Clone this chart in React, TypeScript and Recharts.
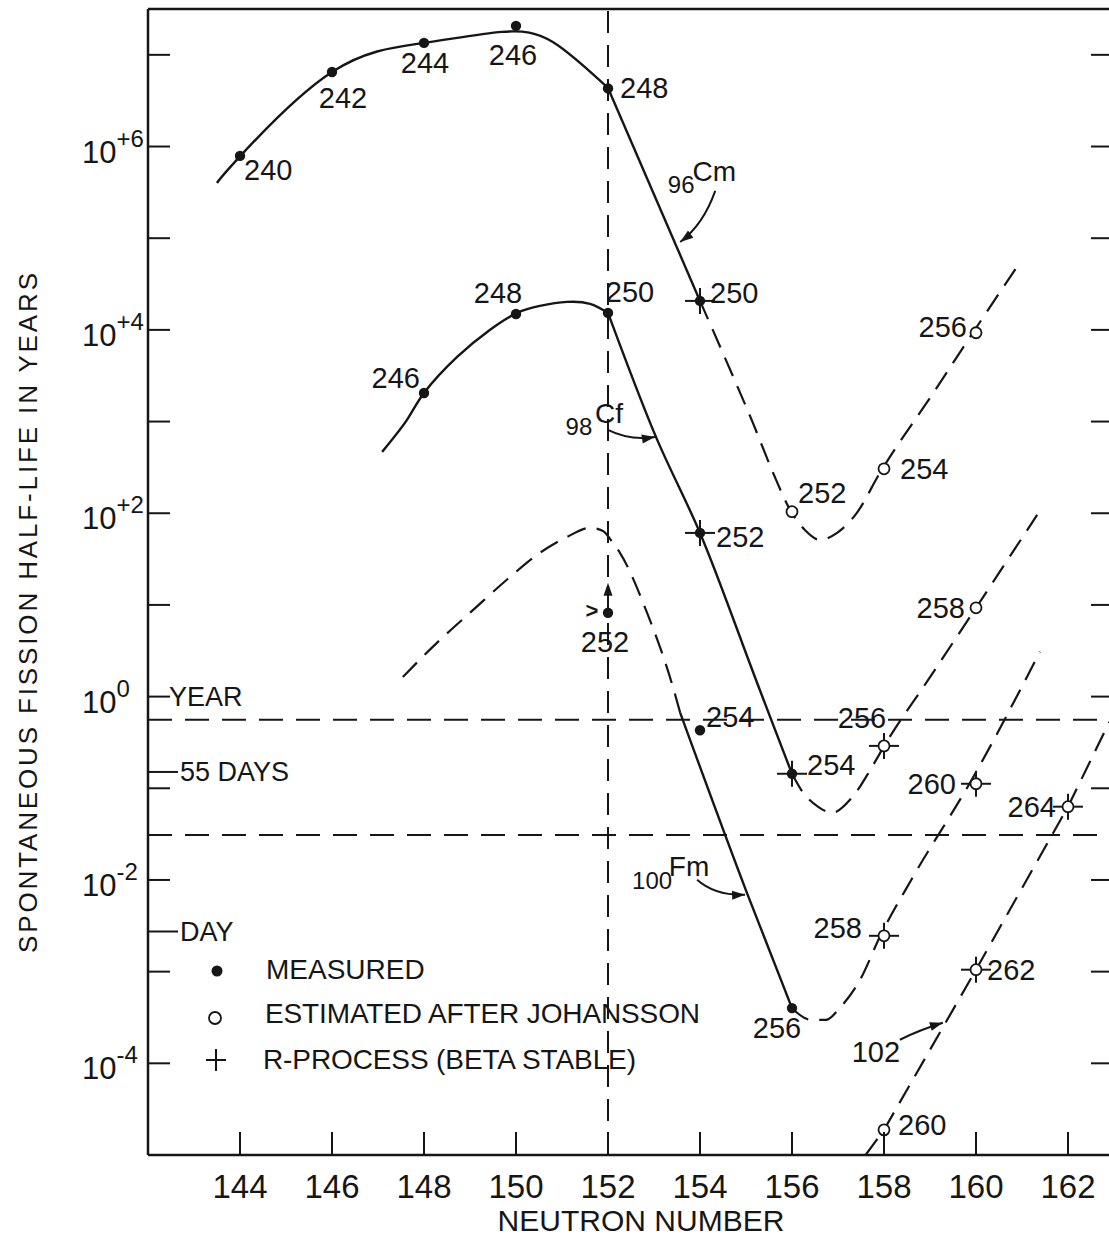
import React from "react";
import { ComposedChart, Line, Scatter, XAxis, YAxis, ReferenceLine, ReferenceDot } from "recharts";

const FONT = "'Liberation Sans', Arial, sans-serif";
const NARROW = "'Liberation Sans Narrow', 'Liberation Sans', Arial, sans-serif";
const INK = "#161616";

// axis ticks
const nTicks = [144, 146, 148, 150, 152, 154, 156, 158, 160, 162];
const decades = [1e-5, 1e-4, 1e-3, 1e-2, 1e-1, 1, 1e1, 1e2, 1e3, 1e4, 1e5, 1e6, 1e7];
const expLabels: Record<number, string> = { 6: "+6", 4: "+4", 2: "+2", 0: "0", [-2]: "-2", [-4]: "-4" };
const DAYS55 = 0.1507; // years
const ONE_DAY = 0.00274; // years
const hLines = [0.56, 0.031];

// measured / estimated points: n = neutron number, t = half-life (years), a = mass number
const cmMeasured = [
  { z: "Cm", n: 144, t: 7.9e5, a: 240 },
  { z: "Cm", n: 146, t: 6.5e6, a: 242 },
  { z: "Cm", n: 148, t: 1.35e7, a: 244 },
  { z: "Cm", n: 150, t: 2.07e7, a: 246 },
  { z: "Cm", n: 152, t: 4.3e6, a: 248 },
  { z: "Cm", n: 154, t: 2.07e4, a: 250 },
];
const cmEstimated = [
  { z: "Cm", n: 156, t: 104, a: 252 },
  { z: "Cm", n: 158, t: 305, a: 254 },
  { z: "Cm", n: 160, t: 9.3e3, a: 256 },
];
const cfMeasured = [
  { z: "Cf", n: 148, t: 2.05e3, a: 246 },
  { z: "Cf", n: 150, t: 1.49e4, a: 248 },
  { z: "Cf", n: 152, t: 1.53e4, a: 250 },
  { z: "Cf", n: 154, t: 61, a: 252 },
  { z: "Cf", n: 156, t: 0.144, a: 254 },
];
const cfEstimated = [
  { z: "Cf", n: 158, t: 0.29, a: 256 },
  { z: "Cf", n: 160, t: 9.3, a: 258 },
];
const fmMeasured = [
  { z: "Fm", n: 152, t: 8.2, a: 252 },
  { z: "Fm", n: 154, t: 0.43, a: 254 },
  { z: "Fm", n: 156, t: 4.0e-4, a: 256 },
];
const fmEstimated = [
  { z: "Fm", n: 158, t: 2.46e-3, a: 258 },
  { z: "Fm", n: 160, t: 0.112, a: 260 },
];
const noEstimated = [
  { z: "102", n: 158, t: 1.88e-5, a: 260 },
  { z: "102", n: 160, t: 1.05e-3, a: 262 },
  { z: "102", n: 162, t: 0.063, a: 264 },
];
const rProcess = ["Cm-250", "Cf-252", "Cf-254", "Cf-256", "Fm-258", "Fm-260", "102-262", "102-264"];
const lowerLimit = ["Fm-252"];

// systematics curves
const cmArc = [
  { n: 143.5, t: 4.0e5 }, { n: 144, t: 7.8e5 }, { n: 146, t: 6.5e6 }, { n: 148, t: 1.35e7 },
  { n: 149.7, t: 1.78e7 }, { n: 150.8, t: 1.38e7 }, { n: 152, t: 4.35e6 },
];
const cmDrop = [{ n: 152, t: 4.35e6 }, { n: 154, t: 2.07e4 }];
const cmDashed = [
  { n: 154, t: 2.07e4 }, { n: 154.59, t: 4.37e3 }, { n: 155.15, t: 966 }, { n: 155.59, t: 275 },
  { n: 155.98, t: 104 }, { n: 156.28, t: 65.8 }, { n: 156.61, t: 51.2 }, { n: 156.98, t: 61.1 },
  { n: 157.41, t: 101 }, { n: 157.91, t: 275 }, { n: 159.07, t: 2050 }, { n: 159.93, t: 9270 },
  { n: 160.96, t: 5.5e4 },
];
const cfArc = [
  { n: 147.09, t: 467 }, { n: 147.63, t: 1042 }, { n: 148, t: 2050 }, { n: 148.72, t: 5070 },
  { n: 149.43, t: 9980 }, { n: 150.02, t: 1.53e4 }, { n: 150.52, t: 1.83e4 }, { n: 151.11, t: 2.02e4 },
  { n: 151.61, t: 1.92e4 }, { n: 152, t: 1.53e4 },
];
const cfDrop = [{ n: 152, t: 1.53e4 }, { n: 153.07, t: 631 }, { n: 154, t: 61 }, { n: 155, t: 2.97 }, { n: 156, t: 0.144 }];
const cfDashed = [
  { n: 156, t: 0.144 }, { n: 156.2, t: 0.0962 }, { n: 156.57, t: 0.0628 }, { n: 156.87, t: 0.054 },
  { n: 157.3, t: 0.0787 }, { n: 157.74, t: 0.171 }, { n: 158.02, t: 0.298 }, { n: 158.96, t: 1.52 },
  { n: 160, t: 9.3 }, { n: 161.33, t: 96 },
];
const fmDashedLeft = [
  { n: 147.54, t: 1.64 }, { n: 148.35, t: 4.16 }, { n: 149.07, t: 8.83 }, { n: 149.8, t: 18.8 },
  { n: 150.52, t: 37 }, { n: 151.11, t: 55.2 }, { n: 151.61, t: 69.2 }, { n: 151.89, t: 64.1 },
  { n: 152.09, t: 48.8 }, { n: 152.26, t: 37 }, { n: 152.85, t: 8.18 }, { n: 153.41, t: 1.28 },
  { n: 153.57, t: 0.665 },
];
const fmSolid = [{ n: 153.57, t: 0.665 }, { n: 155.02, t: 7.24e-3 }, { n: 156, t: 4.0e-4 }];
const fmDashedRight = [
  { n: 156, t: 4.0e-4 }, { n: 156.11, t: 3.56e-4 }, { n: 156.41, t: 2.98e-4 }, { n: 156.74, t: 2.98e-4 },
  { n: 157.04, t: 4.03e-4 }, { n: 157.48, t: 8.15e-4 }, { n: 157.91, t: 2.4e-3 }, { n: 158.63, t: 0.0108 },
  { n: 159.87, t: 0.115 }, { n: 161.39, t: 3.08 },
];
const noDashed = [
  { n: 157.6, t: 1.0e-5 }, { n: 158, t: 1.88e-5 }, { n: 160, t: 1.05e-3 }, { n: 162, t: 0.063 },
  { n: 162.9, t: 0.53 },
];

// where each curve's name arrow touches its curve
const notes = [
  { id: "Cm", n: 153.57, t: 9.1e4 },
  { id: "Cf", n: 153.02, t: 680 },
  { id: "Fm", n: 154.98, t: 6.9e-3 },
  { id: "102", n: 159.28, t: 2.77e-4 },
];

// label placement relative to the marker
const labelPos: Record<string, { dx: number; dy: number; anchor: string }> = {
  "Cm-240": { dx: 4, dy: 14, anchor: "start" },
  "Cm-242": { dx: 11, dy: 26, anchor: "middle" },
  "Cm-244": { dx: 1, dy: 20, anchor: "middle" },
  "Cm-246": { dx: -3, dy: 29, anchor: "middle" },
  "Cm-248": { dx: 12, dy: 0, anchor: "start" },
  "Cm-250": { dx: 10, dy: -8, anchor: "start" },
  "Cm-252": { dx: 6, dy: -19, anchor: "start" },
  "Cm-254": { dx: 16, dy: 0, anchor: "start" },
  "Cm-256": { dx: -9, dy: -6, anchor: "end" },
  "Cf-246": { dx: -4, dy: -15, anchor: "end" },
  "Cf-248": { dx: -18, dy: -21, anchor: "middle" },
  "Cf-250": { dx: 22, dy: -21, anchor: "middle" },
  "Cf-252": { dx: 16, dy: 4, anchor: "start" },
  "Cf-254": { dx: 15, dy: -9, anchor: "start" },
  "Cf-256": { dx: -22, dy: -28, anchor: "middle" },
  "Cf-258": { dx: -11, dy: 0, anchor: "end" },
  "Fm-252": { dx: -3, dy: 29, anchor: "middle" },
  "Fm-254": { dx: 6, dy: -13, anchor: "start" },
  "Fm-256": { dx: -15, dy: 20, anchor: "middle" },
  "Fm-258": { dx: -22, dy: -8, anchor: "end" },
  "Fm-260": { dx: -20, dy: 0, anchor: "end" },
  "102-260": { dx: 14, dy: -5, anchor: "start" },
  "102-262": { dx: 11, dy: 0, anchor: "start" },
  "102-264": { dx: -12, dy: 0, anchor: "end" },
};

const ax = { xAxisId: "b", yAxisId: "l" };

const Head = ({ x1, y1, fx, fy }: any) => {
  // filled arrow head ending at x1,y1 coming from fx,fy
  const a = Math.atan2(y1 - fy, x1 - fx);
  const len = 13, w = 4.5;
  const bx = x1 - len * Math.cos(a), by = y1 - len * Math.sin(a);
  const px = Math.sin(a) * w, py = -Math.cos(a) * w;
  return <polygon points={`${x1},${y1} ${bx + px},${by + py} ${bx - px},${by - py}`} fill={INK} />;
};

const Arrow = ({ x0, y0, qx, qy, x1, y1 }: any) => (
  <g>
    <path d={`M${x0},${y0} Q${qx},${qy} ${x1},${y1}`} fill="none" stroke={INK} strokeWidth={2} />
    <Head x1={x1} y1={y1} fx={qx} fy={qy} />
  </g>
);

const Note = ({ cx, cy, id }: any) => {
  const t = (x: number, y: number, s: number, txt: string) => (
    <text x={cx + x} y={cy + y} fontSize={s} fontFamily={FONT} fill={INK} textAnchor="middle" dominantBaseline="central">{txt}</text>
  );
  if (id === "Cm")
    return <g>{t(1, -57, 24, "96")}{t(34, -70, 28, "Cm")}<Arrow x0={cx + 35} y0={cy - 51} qx={cx + 23} qy={cy - 17} x1={cx} y1={cy} /></g>;
  if (id === "Cf")
    return <g>{t(-76, -10, 24, "98")}{t(-46, -23, 28, "Cf")}<Arrow x0={cx - 47} y0={cy - 7} qx={cx - 25} qy={cy + 4} x1={cx} y1={cy} /></g>;
  if (id === "Fm")
    return <g>{t(-93, -14, 24, "100")}{t(-56, -28, 28, "Fm")}<Arrow x0={cx - 48} y0={cy - 15} qx={cx - 30} qy={cy + 1} x1={cx} y1={cy} /></g>;
  return <g>{t(-67, 29, 29, "102")}<Arrow x0={cx - 43} y0={cy + 17} qx={cx - 23} qy={cy + 7} x1={cx} y1={cy} /></g>;
};

const Marker = ({ cx, cy, payload, open }: any) => {
  if (cx == null || cy == null) return null;
  const key = `${payload.z}-${payload.a}`;
  const lp = labelPos[key] ?? { dx: 10, dy: 0, anchor: "start" };
  const cross = rProcess.includes(key);
  const lower = lowerLimit.includes(key);
  return (
    <g>
      {cross && (
        <g stroke={INK} strokeWidth={2}>
          <line x1={cx - 15} x2={cx + 15} y1={cy} y2={cy} />
          <line x1={cx} x2={cx} y1={cy - 13} y2={cy + 13} />
        </g>
      )}
      {open ? (
        <circle cx={cx} cy={cy} r={5.5} fill="#fff" stroke={INK} strokeWidth={1.8} />
      ) : (
        <circle cx={cx} cy={cy} r={5.2} fill={INK} />
      )}
      {lower && (
        <g>
          <line x1={cx} x2={cx} y1={cy - 4} y2={cy - 20} stroke={INK} strokeWidth={2} />
          <Head x1={cx} y1={cy - 30} fx={cx} fy={cy - 10} />
          <text x={cx - 16} y={cy - 2} fontSize={22} fontFamily={FONT} fontWeight="bold" fill={INK} textAnchor="middle" dominantBaseline="central">&gt;</text>
        </g>
      )}
      <text x={cx + lp.dx} y={cy + lp.dy} fontSize={29} fontFamily={FONT} fill={INK}
        textAnchor={lp.anchor as any} dominantBaseline="central">{payload.a}</text>
    </g>
  );
};

const isDecade = (v: number) => Math.abs(Math.log10(v) - Math.round(Math.log10(v))) < 1e-6;

const LeftTick = ({ x, y, payload }: any) => {
  const v = payload.value;
  if (!isDecade(v)) {
    const txt = v > 0.01 ? "55 DAYS" : "DAY";
    return (
      <g>
        <line x1={x} x2={x + 30} y1={y} y2={y} stroke={INK} strokeWidth={2} />
        <text x={x + 32} y={y} fontSize={27} fontFamily={FONT} fill={INK} dominantBaseline="central">{txt}</text>
      </g>
    );
  }
  const e = Math.round(Math.log10(v));
  const sup = expLabels[e];
  return (
    <g>
      <line x1={x} x2={x + 22} y1={y} y2={y} stroke={INK} strokeWidth={2} />
      {sup !== undefined && (
        <text x={x - 66} y={y + 16} fontFamily={FONT} fill={INK}>
          <tspan fontSize={31}>10</tspan>
          <tspan fontSize={24} dy={-16}>{sup}</tspan>
        </text>
      )}
      {e === 0 && (
        <text x={x + 21} y={y} fontSize={27} fontFamily={FONT} fill={INK} dominantBaseline="central">YEAR</text>
      )}
    </g>
  );
};

const RightTick = ({ x, y }: any) => <line x1={x} x2={x - 23} y1={y} y2={y} stroke={INK} strokeWidth={2} />;
const TopTick = ({ x, y }: any) => <line x1={x} x2={x} y1={y} y2={y + 24} stroke={INK} strokeWidth={2} />;
const BottomTick = ({ x, y, payload }: any) => (
  <g>
    <line x1={x} x2={x} y1={y} y2={y - 23} stroke={INK} strokeWidth={2} />
    <text x={x} y={y + 31} fontSize={33} fontFamily={NARROW} fill={INK} textAnchor="middle" dominantBaseline="central">{payload.value}</text>
  </g>
);

const frame = { stroke: INK, strokeWidth: 2.5 };
const solid = { stroke: INK, strokeWidth: 2.4, dot: false, isAnimationActive: false, type: "monotone" as const };
const dashed = { ...solid, strokeWidth: 2.2, strokeDasharray: "20 11" };

export default function App() {
  return (
    <div style={{ position: "absolute", left: 0, top: 0, width: 1109, height: 1244, overflow: "hidden", background: "#fff" }}>
      <ComposedChart width={1120} height={1244} margin={{ top: 8, right: 0, bottom: 0, left: 0 }}>
        <XAxis xAxisId="b" dataKey="n" type="number" domain={[142, 163]} ticks={nTicks} interval={0}
          orientation="bottom" height={89} tickSize={0} tickMargin={0} tick={<BottomTick />} axisLine={frame} allowDataOverflow />
        <XAxis xAxisId="t" type="number" domain={[142, 163]} ticks={nTicks} interval={0}
          orientation="top" height={1} tickSize={0} tickMargin={0} tick={<TopTick />} axisLine={frame} allowDataOverflow />
        <YAxis yAxisId="l" dataKey="t" type="number" scale="log" domain={[1e-5, 3.1623e7]}
          ticks={[...decades, DAYS55, ONE_DAY]} interval={0} width={148} tickSize={0} tickMargin={0}
          tick={<LeftTick />} axisLine={frame} allowDataOverflow />
        <YAxis yAxisId="r" orientation="right" type="number" scale="log" domain={[1e-5, 3.1623e7]}
          ticks={decades} interval={0} width={6} tickSize={0} tickMargin={0}
          tick={<RightTick />} axisLine={frame} allowDataOverflow />

        <ReferenceLine {...ax} x={152} stroke={INK} strokeWidth={2} strokeDasharray="22 12" />
        {hLines.map((v) => (
          <ReferenceLine key={v} {...ax} y={v} stroke={INK} strokeWidth={2} strokeDasharray="24 13" />
        ))}

        <Line {...ax} {...solid} type="natural" data={cmArc} dataKey="t" />
        <Line {...ax} {...solid} type="linear" data={cmDrop} dataKey="t" />
        <Line {...ax} {...dashed} data={cmDashed} dataKey="t" />
        <Line {...ax} {...solid} type="natural" data={cfArc} dataKey="t" />
        <Line {...ax} {...solid} type="natural" data={cfDrop} dataKey="t" />
        <Line {...ax} {...dashed} data={cfDashed} dataKey="t" />
        <Line {...ax} {...dashed} data={fmDashedLeft} dataKey="t" />
        <Line {...ax} {...solid} data={fmSolid} dataKey="t" />
        <Line {...ax} {...dashed} data={fmDashedRight} dataKey="t" />
        <Line {...ax} {...dashed} type="linear" data={noDashed} dataKey="t" />

        {[cmMeasured, cfMeasured, fmMeasured].map((d, i) => (
          <Scatter key={"m" + i} {...ax} data={d} isAnimationActive={false} shape={(p: any) => <Marker {...p} />} />
        ))}
        {[cmEstimated, cfEstimated, fmEstimated, noEstimated].map((d, i) => (
          <Scatter key={"e" + i} {...ax} data={d} isAnimationActive={false} shape={(p: any) => <Marker {...p} open />} />
        ))}

        {notes.map((nt) => (
          <ReferenceDot key={nt.id} {...ax} x={nt.n} y={nt.t} r={0}
            shape={(p: any) => <Note cx={p.cx} cy={p.cy} id={nt.id} />} />
        ))}
      </ComposedChart>

      <svg width={1109} height={1244} style={{ position: "absolute", left: 0, top: 0, pointerEvents: "none" }}>
        <text transform="translate(28,613) rotate(-90)" fontSize={26} fontFamily={FONT} fill={INK}
          textAnchor="middle" dominantBaseline="central" textLength={680} lengthAdjust="spacing">
          SPONTANEOUS FISSION HALF-LIFE IN YEARS
        </text>
        <text x={641} y={1220} fontSize={30} fontFamily={NARROW} fill={INK} textAnchor="middle"
          dominantBaseline="central" textLength={287} lengthAdjust="spacing">NEUTRON NUMBER</text>

        <circle cx={217} cy={971} r={5.5} fill={INK} />
        <text x={266} y={969} fontSize={28} fontFamily={FONT} fill={INK} dominantBaseline="central">MEASURED</text>
        <circle cx={215} cy={1018} r={6} fill="#fff" stroke={INK} strokeWidth={1.8} />
        <text x={265} y={1013} fontSize={28} fontFamily={FONT} fill={INK} dominantBaseline="central"
          textLength={435} lengthAdjust="spacing">ESTIMATED AFTER JOHANSSON</text>
        <g stroke={INK} strokeWidth={2}>
          <line x1={206} x2={226} y1={1060} y2={1060} />
          <line x1={216} x2={216} y1={1049} y2={1071} />
        </g>
        <text x={263} y={1059} fontSize={28} fontFamily={FONT} fill={INK} dominantBaseline="central"
          textLength={373} lengthAdjust="spacing">R-PROCESS (BETA STABLE)</text>
      </svg>
    </div>
  );
}
